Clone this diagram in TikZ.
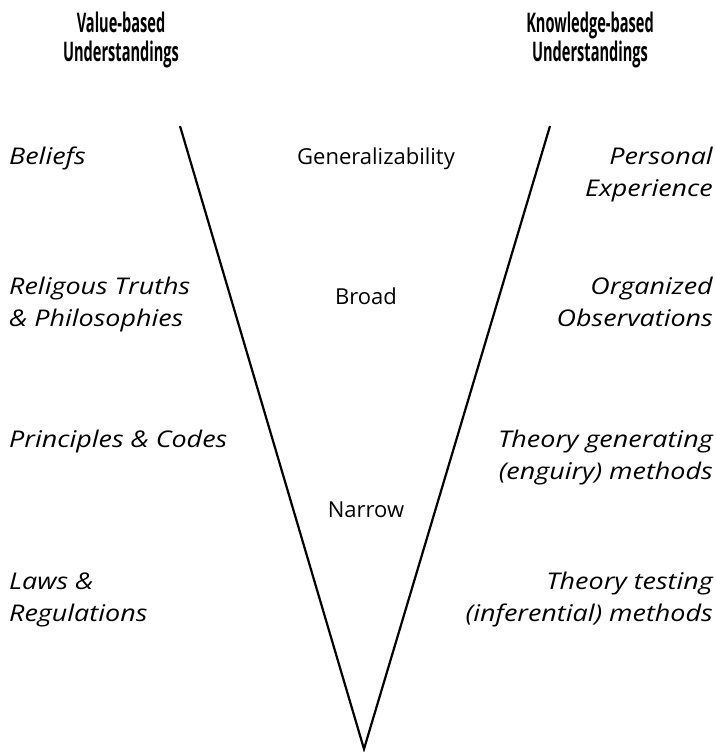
\documentclass[tikz,border=0pt]{standalone}
\usepackage{fontspec}
\setmainfont{Open Sans}
\newfontfamily\headfont[FakeStretch=0.54]{Open Sans}
\newfontfamily\itfont[FakeStretch=1.17]{Open Sans}
\begin{document}
\begin{tikzpicture}[x=1pt,y=-1pt,
  txt/.style={inner sep=0pt, font=\fontsize{22}{32}\selectfont},
  lft/.style={txt, anchor=base west, align=left, font=\itfont\itshape\fontsize{23}{32}\selectfont},
  rgt/.style={txt, anchor=base east, align=right, font=\itfont\itshape\fontsize{23}{32}\selectfont},
  mid/.style={txt, anchor=base},
  head/.style={inner sep=0pt, anchor=base, align=center, font=\headfont\bfseries\fontsize{27}{29.5}\selectfont},
  vline/.style={line width=2.2pt, line join=miter}]
\useasboundingbox (0,0) rectangle (715,752);
\node[head] (hl) at (121,62) {Value-based\\Understandings};
\node[head] (hr) at (590,62) {Knowledge-based\\Understandings};
\coordinate (tl) at (180,126);
\coordinate (tr) at (550,126);
\coordinate (bt) at (364,749);
\draw[vline] (tl) -- (bt) -- (tr);
\node[mid] (gen) at (376,164) {Generalizability};
\node[mid] (broad) at (366,304) {Broad};
\node[mid] (narrow) at (366,517) {Narrow};
\node[lft] (l1) at (9,164) {Beliefs};
\node[lft] (l2) at (9,326) {Religous Truths\\\& Philosophies};
\node[lft] (l3) at (9,447) {Principles \& Codes};
\node[lft] (l4) at (9,621) {Laws \&\\Regulations};
\node[rgt] (r1) at (713,196) {Personal\\Experience};
\node[rgt] (r2) at (713,326) {Organized\\Observations};
\node[rgt] (r3) at (713,479) {Theory generating\\(enguiry) methods};
\node[rgt] (r4) at (713,621) {Theory testing\\(inferential) methods};
\end{tikzpicture}
\end{document}
